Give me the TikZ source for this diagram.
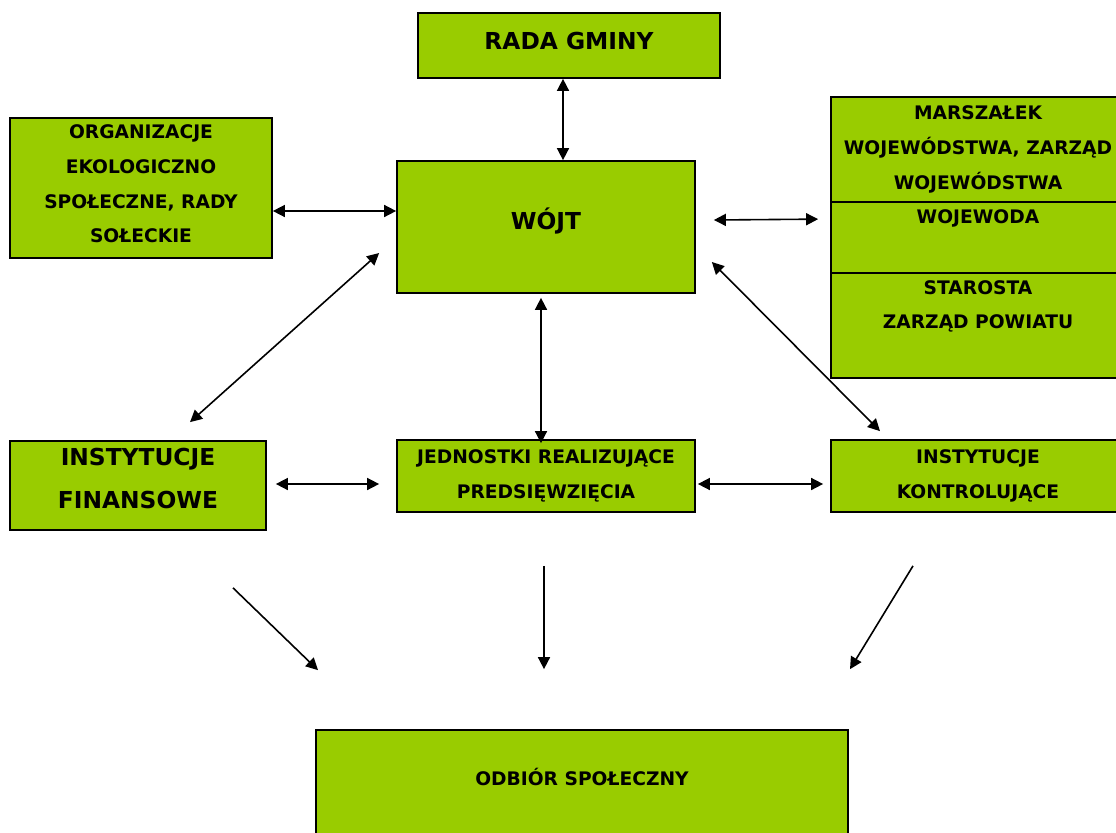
\documentclass[tikz,border=0pt]{standalone}
\usepackage{fontspec}
\setmainfont{DejaVu Sans}
\usetikzlibrary{arrows.meta,calc}
\definecolor{gminagreen}{HTML}{99CC00}
\newcommand{\dropby}[1]{\rule[-#1]{0pt}{#1}}

\begin{document}
\begin{tikzpicture}[x=0.75pt,y=-0.75pt,
    box/.style={draw=black,line width=1.3pt,fill=gminagreen,inner sep=0pt,align=center,
        font=\bfseries\fontsize{14}{26}\selectfont},
    bigtext/.style={font=\bfseries\fontsize{17.5}{32}\selectfont},
    intext/.style={inner sep=0pt,align=center,font=\bfseries\fontsize{14}{26}\selectfont},
    link/.style={{Triangle[length=9pt,width=9pt]}-{Triangle[length=9pt,width=9pt]},line width=1.2pt},
    flow/.style={-{Triangle[length=9pt,width=9pt]},line width=1.2pt}]
    \useasboundingbox (0,0) rectangle (1116,832);
    %boxes
    \node[box,bigtext,minimum width=226.5pt,minimum height=48.75pt] (rada) at (569,45.5) {RADA GMINY\dropby{7.5pt}};
    \node[box,minimum width=196.5pt,minimum height=105pt] (org) at (141,188)
        {ORGANIZACJE\\EKOLOGICZNO\\SPOŁECZNE, RADY\\SOŁECKIE\dropby{6pt}};
    \node[box,bigtext,minimum width=223.5pt,minimum height=99pt] (wojt) at (546,227) {WÓJT\dropby{12.6pt}};
    \node[box,minimum width=220.5pt,minimum height=78.75pt] (marsz) at (978,149.5)
        {MARSZAŁEK\\WOJEWÓDSTWA, ZARZĄD\\WOJEWÓDSTWA\dropby{3pt}};
    \node[box,minimum width=220.5pt,minimum height=53.25pt] (wojewoda) at (978,237.5) {};
    \node[intext,anchor=north] (wojewodatxt) at ($(wojewoda.north)+(0,8.5)$) {WOJEWODA};
    \node[box,minimum width=220.5pt,minimum height=78.75pt] (starosta) at (978,325.5) {};
    \node[intext,anchor=north] (starostatxt) at ($(starosta.north)+(0,8)$) {STAROSTA\\ZARZĄD POWIATU};
    \node[box,bigtext,minimum width=192pt,minimum height=66.75pt] (fin) at (138,485.5)
        {INSTYTUCJE\\FINANSOWE\dropby{10.5pt}};
    \node[box,minimum width=223.5pt,minimum height=54pt] (jedn) at (546,476)
        {JEDNOSTKI REALIZUJĄCE\\PREDSIĘWZIĘCIA\dropby{3pt}};
    \node[box,minimum width=220.5pt,minimum height=54pt] (kontr) at (978,476)
        {INSTYTUCJE\\KONTROLUJĄCE\dropby{3pt}};
    \node[box,minimum width=399pt,minimum height=86.25pt] (odbior) at (582,787.5) {};
    \node[intext,anchor=base] (odbiortxt) at ($(odbior.north)+(0,56)$) {ODBIÓR SPOŁECZNY};
    %links
    \draw[link] ($(rada.south)+(-6,0)$) -- ($(wojt.north)+(17,0)$);
    \draw[link] ($(org.east)+(0,23)$) -- ($(wojt.west)+(0,-16)$);
    \draw[link] ($(wojt.east)+(18,-7)$) -- ($(wojewoda.north west)+(-12,18)$);
    \draw[link] ($(wojt.west)+(-17,26)$) -- ($(fin.north)+(52,-18)$);
    \draw[link] ($(wojt.south)+(-5,4)$) -- ($(jedn.north)+(-5,4)$);
    \draw[link] ($(wojt.east)+(16,35)$) -- ($(kontr.north)+(-98,-8)$);
    \draw[link] ($(fin.east)+(9,-1.5)$) -- ($(jedn.west)+(-17,8)$);
    \draw[link] ($(jedn.east)+(2,8)$) -- ($(kontr.west)+(-7,8)$);
    %to odbior
    \draw[flow] ($(fin.south)+(95,57)$) -- ($(odbior.north)+(-264,-59)$);
    \draw[flow] ($(jedn.south)+(-2,53)$) -- ($(odbior.north)+(-38,-60)$);
    \draw[flow] ($(kontr.south)+(-65,53)$) -- ($(odbior.north)+(268,-60)$);
\end{tikzpicture}
\end{document}
